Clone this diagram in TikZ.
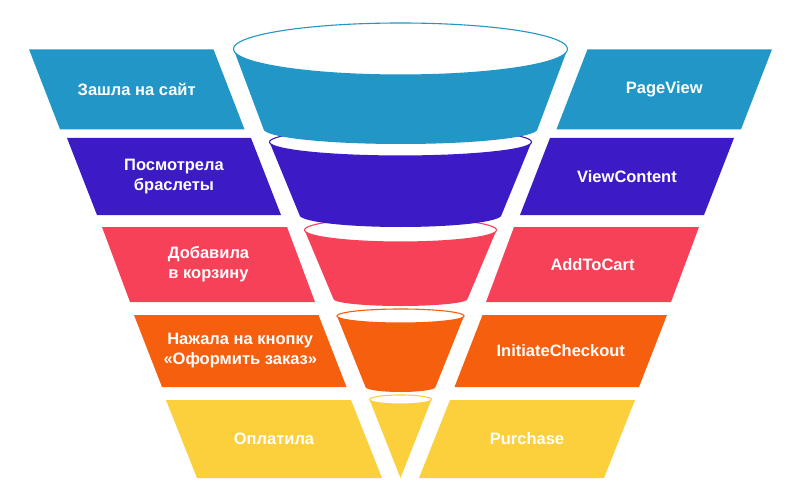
\documentclass[tikz,border=0pt]{standalone}
\usepackage{fontspec}
\setmainfont{Liberation Sans}
\definecolor{cblue}{HTML}{2196C7}
\definecolor{cpurple}{HTML}{3C1AC5}
\definecolor{cred}{HTML}{F64158}
\definecolor{corange}{HTML}{F55F0E}
\definecolor{cyellow}{HTML}{FCD03C}
\tikzset{
  lbl/.style={text=white, font=\bfseries\fontsize{16.5}{20}\selectfont, align=center, inner sep=0pt},
  rim/.style={line width=1.1pt, fill=white}
}
% funnel segment: #1 colour, #2 top rx, #3 top cy, #4 top ry, #5 bottom rx, #6 bottom cy, #7 bottom ry
\newcommand{\fseg}[7]{%
  \fill[fill=#1] ({400.5-#2},#3) -- ({400.5-#5},#6)
    arc[start angle=180,end angle=360,x radius=#5pt,y radius=#7pt]
    -- ({400.5+#2},#3)
    arc[start angle=0,end angle=-180,x radius=#2pt,y radius=#4pt] -- cycle;
  \draw[rim, draw=#1] (400.5,#3) ellipse[x radius=#2pt, y radius=#4pt];
}
% band pair: #1 colour, #2 top y, #3 bottom y, #4 top-left x, #5 bottom-left x, #6 width
\newcommand{\bandpair}[6]{%
  \fill[#1] (#4,#2) -- ({#4+#6},#2) -- ({#5+#6},#3) -- (#5,#3) -- cycle;
  \fill[#1] ({801-#4},#2) -- ({801-#4-#6},#2) -- ({801-#5-#6},#3) -- ({801-#5},#3) -- cycle;
}
\begin{document}
\begin{tikzpicture}[x=1pt,y=-1pt]
\useasboundingbox (0,0) rectangle (800,500);
\fill[white] (0,0) rectangle (800,500);

% side bands
\bandpair{cblue}{49.3}{129.3}{29}{60}{184.5}
\bandpair{cpurple}{138}{215}{67}{97}{184}
\bandpair{cred}{227}{302}{102}{130}{185}
\bandpair{corange}{315}{387}{134}{162}{184.5}
\bandpair{cyellow}{400}{478}{166}{197}{185}

% funnel, bottom to top
\fill[cyellow] (369.5,399.5) -- (400.5,478) -- (431.5,399.5)
  arc[start angle=0,end angle=-180,x radius=31pt,y radius=4.5pt] -- cycle;
\draw[rim, draw=cyellow] (400.5,399.5) ellipse[x radius=31pt, y radius=4.5pt];
\fseg{corange}{63.5}{316}{7}{35}{387}{5}
\fseg{cred}{96}{230}{12}{67}{299}{7}
\fseg{cpurple}{131}{142}{14}{101}{215}{12}
\fseg{cblue}{167}{49}{26}{137}{129}{15}

% labels
\node[lbl] (l1) at (136.75,89.3) {Зашла на сайт};
\node[lbl] (l2) at (174,176.5) {Посмотрела\\браслеты};
\node[lbl] (l3) at (208.5,264.5) {Добавила\\в корзину};
\node[lbl] (l4) at (240.25,351) {Нажала на кнопку\\«Оформить заказ»};
\node[lbl] (l5) at (274,439) {Оплатила};
\node[lbl] (r1) at (664.25,89.3) {PageView};
\node[lbl] (r2) at (627,176.5) {ViewContent};
\node[lbl] (r3) at (592.5,264.5) {AddToCart};
\node[lbl] (r4) at (560.75,351) {InitiateCheckout};
\node[lbl] (r5) at (527,439) {Purchase};
\end{tikzpicture}
\end{document}
